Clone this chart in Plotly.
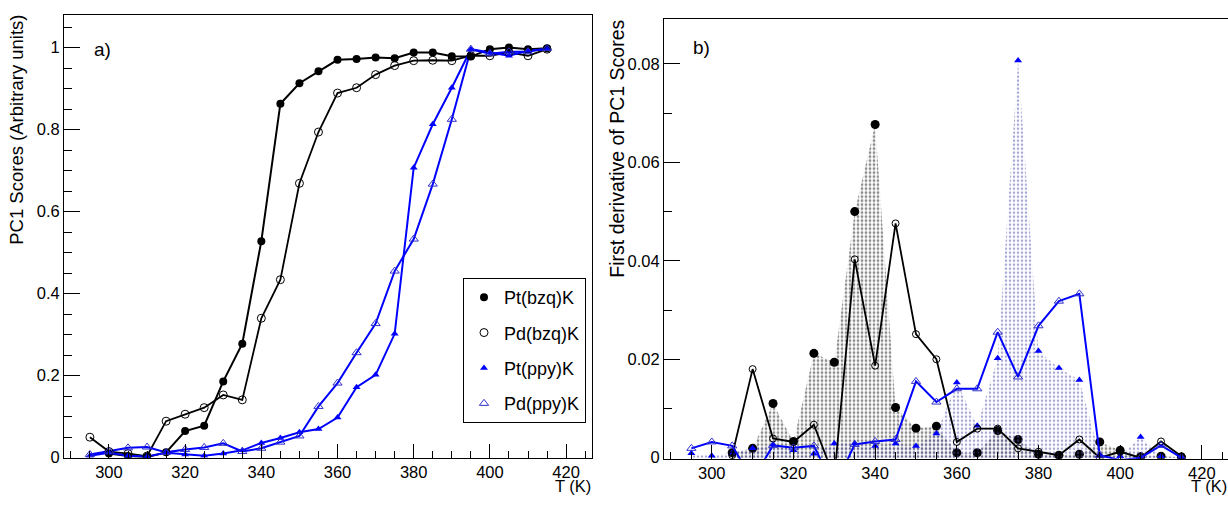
import plotly.graph_objects as go

# ---------------- data ----------------
T = [295, 300, 305, 310, 315, 320, 325, 330, 335, 340, 345, 350, 355,
     360, 365, 370, 375, 380, 385, 390, 395, 400, 405, 410, 415]

# panel a) PC1 scores
T_pt_bzq = T[1:]
pt_bzq = [0.010, 0.004, 0.002, 0.013, 0.065, 0.078, 0.186, 0.278, 0.528,
          0.863, 0.913, 0.942, 0.970, 0.972, 0.976, 0.974, 0.988, 0.988,
          0.979, 0.978, 0.996, 1.000, 0.996, 0.998]
pd_bzq = [0.050, 0.015, 0.010, 0.004, 0.089, 0.106, 0.122, 0.153, 0.141,
          0.340, 0.434, 0.669, 0.794, 0.889, 0.902, 0.934, 0.956, 0.968,
          0.969, 0.968, 0.980, 0.980, 0.988, 0.980, 0.996]
pt_ppy = [0.005, 0.012, 0.005, 0.003, 0.012, 0.008, 0.005, 0.010, 0.018,
          0.036, 0.048, 0.062, 0.070, 0.098, 0.172, 0.202, 0.302, 0.707,
          0.813, 0.902, 0.996, 0.988, 0.980, 0.992, 0.996]
pd_ppy = [0.008, 0.016, 0.024, 0.026, 0.013, 0.020, 0.025, 0.035, 0.015,
          0.023, 0.038, 0.053, 0.125, 0.182, 0.256, 0.327, 0.455, 0.533,
          0.667, 0.825, 0.996, 0.985, 0.990, 0.990, 0.998]

# panel b) first derivative
T_d_bzq = T[2:]
d_pt_bzq = [0.0010, 0.0019, 0.0110, 0.0033, 0.0212, 0.0194, 0.0500, 0.0677,
            0.0102, 0.0060, 0.0064, 0.0010, 0.0010, 0.0055, 0.0037, 0.0007,
            0.0005, 0.0007, 0.0032, 0.0015, 0.0002, 0.0003, 0.0001]
d_pd_bzq = [0.0005, 0.0180, 0.0039, 0.0032, 0.0067, -0.0040, 0.0403, 0.0187,
            0.0476, 0.0251, 0.0200, 0.0032, 0.0059, 0.0059, 0.0019, 0.0012,
            0.0005, 0.0037, 0.0000, 0.0012, 0.0000, 0.0033, 0.0003]
d_pt_ppy = [0.0009, 0.0004, 0.0010, 0.0019, 0.0027, 0.0015, 0.0008, 0.0029,
            0.0029, 0.0024, 0.0029, 0.0024, 0.0049, 0.0153, 0.0065, 0.0202,
            0.0807, 0.0217, 0.0182, 0.0158, 0.0005, 0.0003, 0.0042, 0.0003,
            0.0000]
d_pd_ppy = [0.0019, 0.0032, 0.0024, -0.0045, 0.0025, 0.0020, 0.0024, -0.0060,
            0.0027, 0.0033, 0.0037, 0.0155, 0.0113, 0.0140, 0.0140, 0.0255,
            0.0164, 0.0268, 0.0318, 0.0333, 0.0005, -0.0005, 0.0000, 0.0025,
            0.0000]

names = ["Pt(bzq)K", "Pd(bzq)K", "Pt(ppy)K", "Pd(ppy)K"]

BLACK = "#000000"
BLUE = "#0000ff"
OPENBLUE = "#3030c8"
FONT = "Liberation Sans, Arial, Helvetica, sans-serif"

W, H = 1228, 505

def px_x(p):
    return p / W

def px_y(p):
    return (H - p) / H

fig = go.Figure()

# ---------- panel a: lines (no legend) then markers (legend) ----------
series_a = [
    (T_pt_bzq, pt_bzq, names[0], BLACK, 2.0, dict(symbol="circle", size=8, color=BLACK)),
    (T, pd_bzq, names[1], BLACK, 1.8, dict(symbol="circle-open", size=8, color=BLACK,
                                            line=dict(width=1))),
    (T, pt_ppy, names[2], BLUE, 2.0, dict(symbol="triangle-up", size=7, color=BLUE)),
    (T, pd_ppy, names[3], BLUE, 2.0, dict(symbol="triangle-up-open", size=8, color=OPENBLUE,
                                           line=dict(width=1))),
]
for i, (xs, ys, nm, col, lw, mk) in enumerate(series_a):
    fig.add_trace(go.Scatter(x=xs, y=ys, mode="lines", line=dict(color=col, width=lw),
                             xaxis="x", yaxis="y", showlegend=False, hoverinfo="skip"))
for i, (xs, ys, nm, col, lw, mk) in enumerate(series_a):
    fig.add_trace(go.Scatter(x=xs, y=ys, name=nm, mode="markers", marker=mk,
                             xaxis="x", yaxis="y", legendgroup="g%d" % i))

# ---------- panel b ----------
fig.add_trace(go.Scatter(x=T_d_bzq, y=d_pt_bzq, name=names[0], mode="lines+markers",
                         line=dict(color="rgba(0,0,0,0)", width=0),
                         fill="tozeroy", fillcolor="rgba(0,0,0,0)",
                         fillpattern=dict(shape=".", fgcolor="#1a1a1a",
                                          bgcolor="rgba(255,255,255,0)",
                                          size=4, solidity=0.38),
                         marker=dict(symbol="circle", size=9, color=BLACK),
                         xaxis="x2", yaxis="y2", showlegend=False))
fig.add_trace(go.Scatter(x=T, y=d_pt_ppy, name=names[2], mode="lines+markers",
                         line=dict(color="rgba(0,0,0,0)", width=0),
                         fill="tozeroy", fillcolor="rgba(0,0,0,0)",
                         fillpattern=dict(shape=".", fgcolor="#5050ac",
                                          bgcolor="rgba(255,255,255,0)",
                                          size=4, solidity=0.32),
                         marker=dict(symbol="triangle-up", size=7, color=BLUE),
                         xaxis="x2", yaxis="y2", showlegend=False))
fig.add_trace(go.Scatter(x=T_d_bzq, y=d_pd_bzq, name=names[1], mode="lines+markers",
                         line=dict(color=BLACK, width=1.8),
                         marker=dict(symbol="circle-open", size=7, color=BLACK,
                                     line=dict(width=1)),
                         xaxis="x2", yaxis="y2", showlegend=False))
fig.add_trace(go.Scatter(x=T, y=d_pd_ppy, name=names[3], mode="lines+markers",
                         line=dict(color=BLUE, width=2),
                         marker=dict(symbol="triangle-up-open", size=8, color=OPENBLUE,
                                     line=dict(width=1)),
                         xaxis="x2", yaxis="y2", showlegend=False))

tickfont = dict(family=FONT, size=16.5, color=BLACK)

common_x = dict(tickmode="linear", tick0=300, dtick=20, ticks="inside", ticklen=14,
                tickwidth=1, tickcolor=BLACK, showline=True, linecolor=BLACK,
                linewidth=1, showgrid=False, zeroline=False, tickfont=tickfont,
                ticklabelstandoff=0,
                minor=dict(ticks="inside", dtick=5, ticklen=7, tickcolor=BLACK,
                           tickwidth=1, showgrid=False))

common_y = dict(ticks="inside", ticklen=16, tickwidth=1, tickcolor=BLACK,
                showline=True, linecolor=BLACK, linewidth=1, showgrid=False,
                zeroline=False, tickfont=tickfont, tickmode="linear", tick0=0)

fig.update_layout(
    width=W, height=H,
    margin=dict(l=0, r=0, t=0, b=0),
    paper_bgcolor="white", plot_bgcolor="white",
    font=dict(family=FONT, color=BLACK),
    xaxis=dict(domain=[px_x(64), px_x(592)], range=[288.2, 426.8], anchor="y",
               mirror=True, **common_x),
    yaxis=dict(domain=[px_y(466), px_y(15)], range=[0, 1.08], anchor="x",
               dtick=0.2, mirror=True,
               minor=dict(ticks="inside", dtick=0.05, ticklen=8, tickcolor=BLACK,
                          tickwidth=1, showgrid=False), **common_y),
    xaxis2=dict(domain=[px_x(664), 1.0], range=[288.3, 426.4], anchor="y2",
                mirror=True, **common_x),
    yaxis2=dict(domain=[px_y(467), px_y(19)], range=[-0.0002, 0.0892], anchor="x2",
                dtick=0.02, mirror=False,
                minor=dict(ticks="inside", dtick=0.01, ticklen=8, tickcolor=BLACK,
                           tickwidth=1, showgrid=False), **common_y),
    legend=dict(x=px_x(463), y=px_y(283), xanchor="left", yanchor="top",
                bordercolor=BLACK, borderwidth=1, bgcolor="white",
                font=dict(family=FONT, size=18, color=BLACK),
                traceorder="grouped", tracegroupgap=9, itemwidth=30),
    showlegend=True,
)

ann = [
    dict(text="a)", x=px_x(92), y=px_y(50), xanchor="left", yanchor="middle",
         font=dict(size=19)),
    dict(text="b)", x=px_x(691), y=px_y(48), xanchor="left", yanchor="middle",
         font=dict(size=19)),
    dict(text="PC1 Scores (Arbitrary units)", textangle=-90, x=px_x(17), y=px_y(13),
         xanchor="center", yanchor="top", font=dict(size=18.5)),
    dict(text="First derivative of PC1 Scores", textangle=-90, x=px_x(617), y=px_y(18),
         xanchor="center", yanchor="top", font=dict(size=19.5)),
    dict(text="T (K)", x=px_x(592), y=px_y(505), xanchor="right", yanchor="bottom",
         font=dict(size=16.5), borderpad=0),
    dict(text="T (K)", x=px_x(1228), y=px_y(505), xanchor="right", yanchor="bottom",
         font=dict(size=16.5), borderpad=0),
]
for a in ann:
    a.update(xref="paper", yref="paper", showarrow=False)
    a["font"].update(family=FONT, color=BLACK)
fig.update_layout(annotations=ann)

fig.write_html("out.html")
